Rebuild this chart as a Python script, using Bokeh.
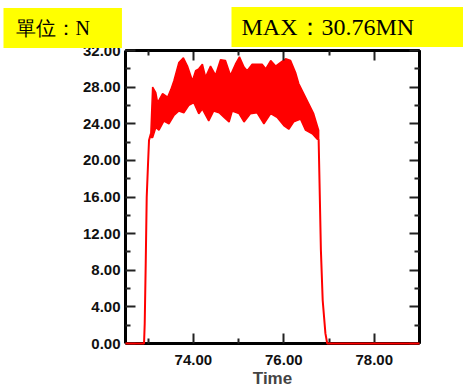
from bokeh.plotting import figure
from bokeh.models import LinearAxis, FixedTicker, Label, Range1d
from bokeh.embed import file_html
from bokeh.resources import INLINE

# ---- data ----
rise_t = [72.5, 72.91, 72.925, 72.947, 72.969, 72.998, 73.02, 73.06]
rise_v = [0.0, 0.0, 2.2, 8.7, 16.0, 19.6, 22.2, 22.9]

upper_t = [73.06, 73.10, 73.17, 73.21, 73.32, 73.43, 73.50, 73.57, 73.68, 73.78,
           73.87, 73.98, 74.05, 74.12, 74.20, 74.27, 74.38, 74.49, 74.60, 74.71,
           74.82, 74.93, 75.02, 75.12, 75.19, 75.30, 75.52, 75.60, 75.71, 75.82,
           75.93, 76.04, 76.15, 76.26, 76.33, 76.44, 76.55, 76.66, 76.77]
upper_v = [22.9, 28.0, 27.4, 26.3, 27.3, 26.9, 27.7, 28.7, 30.7, 31.2,
           30.3, 28.7, 29.8, 30.0, 30.5, 29.1, 30.3, 29.3, 31.0, 30.9,
           29.3, 30.5, 31.3, 30.2, 29.8, 30.5, 30.5, 30.0, 30.9, 30.3,
           30.7, 31.1, 30.9, 29.6, 28.4, 27.3, 26.2, 25.1, 23.3]

lower_t = [73.06, 73.10, 73.17, 73.24, 73.35, 73.46, 73.57, 73.68, 73.79, 73.90,
           74.01, 74.12, 74.20, 74.34, 74.45, 74.57, 74.68, 74.79, 74.86, 75.01,
           75.12, 75.26, 75.41, 75.56, 75.71, 75.85, 76.00, 76.11, 76.22, 76.37,
           76.48, 76.63, 76.74, 76.77]
lower_v = [22.5, 22.5, 23.6, 23.3, 24.3, 24.0, 24.9, 25.4, 25.2, 26.0,
           26.3, 25.1, 25.6, 24.3, 25.4, 25.2, 24.7, 24.2, 25.4, 25.1,
           24.2, 25.1, 25.2, 24.0, 25.1, 24.7, 23.8, 23.4, 24.2, 24.5,
           23.3, 22.9, 22.3, 22.3]

fall_t = [76.77, 76.79, 76.82, 76.86, 76.92, 76.96, 79.0]
fall_v = [22.3, 17.5, 10.2, 4.7, 1.1, 0.0, 0.0]

x_ticks = [74, 76, 78]
x_tick_labels = ["74.00", "76.00", "78.00"]
x_minor = [73, 75, 77, 79]
y_ticks = [0, 4, 8, 12, 16, 20, 24, 28, 32]
y_tick_labels = ["0.00", "4.00", "8.00", "12.00", "16.00", "20.00", "24.00", "28.00", "32.00"]
y_minor = [2, 6, 10, 14, 18, 22, 26, 30]

unit_text = "單位：N"
max_text = "MAX：30.76MN"
x_title = "Time"

# ---- layout ----
X0, X1, Y0, Y1 = 72.5, 79.0, 0.0, 32.0
FW, FH = 294, 293
BL, BT = 125, 50

p = figure(frame_width=FW, frame_height=FH, x_range=Range1d(X0, X1), y_range=Range1d(Y0, Y1),
           output_backend="svg", toolbar_location=None,
           x_axis_location=None, y_axis_location=None,
           min_border_left=BL, min_border_right=44, min_border_top=BT, min_border_bottom=40)
p.outline_line_color = None
p.background_fill_color = "white"
p.border_fill_color = "white"
p.grid.grid_line_color = None

FONT = "Liberation Sans"
TICK_COLOR = "#222222"

def style_axis(ax):
    ax.axis_line_width = 3
    ax.axis_line_color = "black"
    ax.major_tick_in = 10
    ax.major_tick_out = 0
    ax.minor_tick_in = 5
    ax.minor_tick_out = 0
    ax.major_tick_line_width = 2
    ax.minor_tick_line_width = 2
    ax.major_tick_line_color = TICK_COLOR
    ax.minor_tick_line_color = TICK_COLOR
    ax.major_label_text_font = FONT
    ax.major_label_text_font_style = "bold"
    ax.major_label_text_font_size = "15px"
    ax.major_label_text_color = "#111111"

def tick_only_axis(positions, length):
    # an axis that only draws inward tick marks (no labels)
    ax = LinearAxis(ticker=FixedTicker(ticks=[], minor_ticks=positions))
    ax.axis_line_width = 3
    ax.axis_line_color = "black"
    ax.major_tick_in = 0
    ax.major_tick_out = 0
    ax.minor_tick_in = length
    ax.minor_tick_out = 0
    ax.minor_tick_line_width = 2
    ax.minor_tick_line_color = TICK_COLOR
    ax.major_label_standoff = 0
    ax.axis_label_standoff = 0
    return ax

xb = LinearAxis(ticker=FixedTicker(ticks=x_ticks, minor_ticks=x_minor),
                major_label_overrides=dict(zip(x_ticks, x_tick_labels)))
style_axis(xb)
xb.major_label_standoff = 11
xb.axis_label = x_title
xb.axis_label_text_font = FONT
xb.axis_label_text_font_style = "bold"
xb.axis_label_text_font_size = "17px"
xb.axis_label_standoff = 1
p.add_layout(xb, "below")

yl = LinearAxis(ticker=FixedTicker(ticks=y_ticks, minor_ticks=y_minor),
                major_label_overrides=dict(zip(y_ticks, y_tick_labels)))
style_axis(yl)
yl.major_label_standoff = 5
p.add_layout(yl, "left")

p.add_layout(tick_only_axis(x_ticks, 10), "above")
p.add_layout(tick_only_axis(x_minor, 5), "above")
p.add_layout(tick_only_axis(y_ticks, 10), "right")
p.add_layout(tick_only_axis(y_minor, 5), "right")

# ---- data marks ----
band_x = upper_t + lower_t[::-1]
band_y = upper_v + lower_v[::-1]
p.patch(band_x, band_y, fill_color="#ff0000", line_color="#ff0000", line_width=1.5)
p.line(rise_t, rise_v, line_color="#ff0000", line_width=2, level="overlay")
p.line(fall_t, fall_v, line_color="#ff0000", line_width=2, level="overlay")

# ---- yellow header boxes ----
# They sit in a side panel (so they are not clipped to the frame); the panel is
# put below the x axis, where its extra room falls outside the window.
ppx = FW / (X1 - X0)
ppy = FH / (Y1 - Y0)
def dx(cx):
    return X0 + (cx - BL) / ppx
def dy(cy):
    return Y1 + (BT - cy) / ppy

unit_label = Label(x=dx(3), y=dy(27.5), text=unit_text,
                   text_font="Liberation Serif", text_font_size="20px",
                   text_color="black", text_align="left", text_baseline="middle",
                   background_fill_color="#ffff00",
                   padding=dict(left=12, right=32, top=9, bottom=9))
p.add_layout(unit_label, "below")

max_label = Label(x=dx(231), y=dy(26.5), text=max_text,
                  text_font="Liberation Serif", text_font_size="24px",
                  text_color="black", text_align="left", text_baseline="middle",
                  background_fill_color="#ffff00",
                  padding=dict(left=10, right=52, top=7, bottom=7))
p.add_layout(max_label, "below")

open("out.html", "w").write(file_html(p, INLINE))
